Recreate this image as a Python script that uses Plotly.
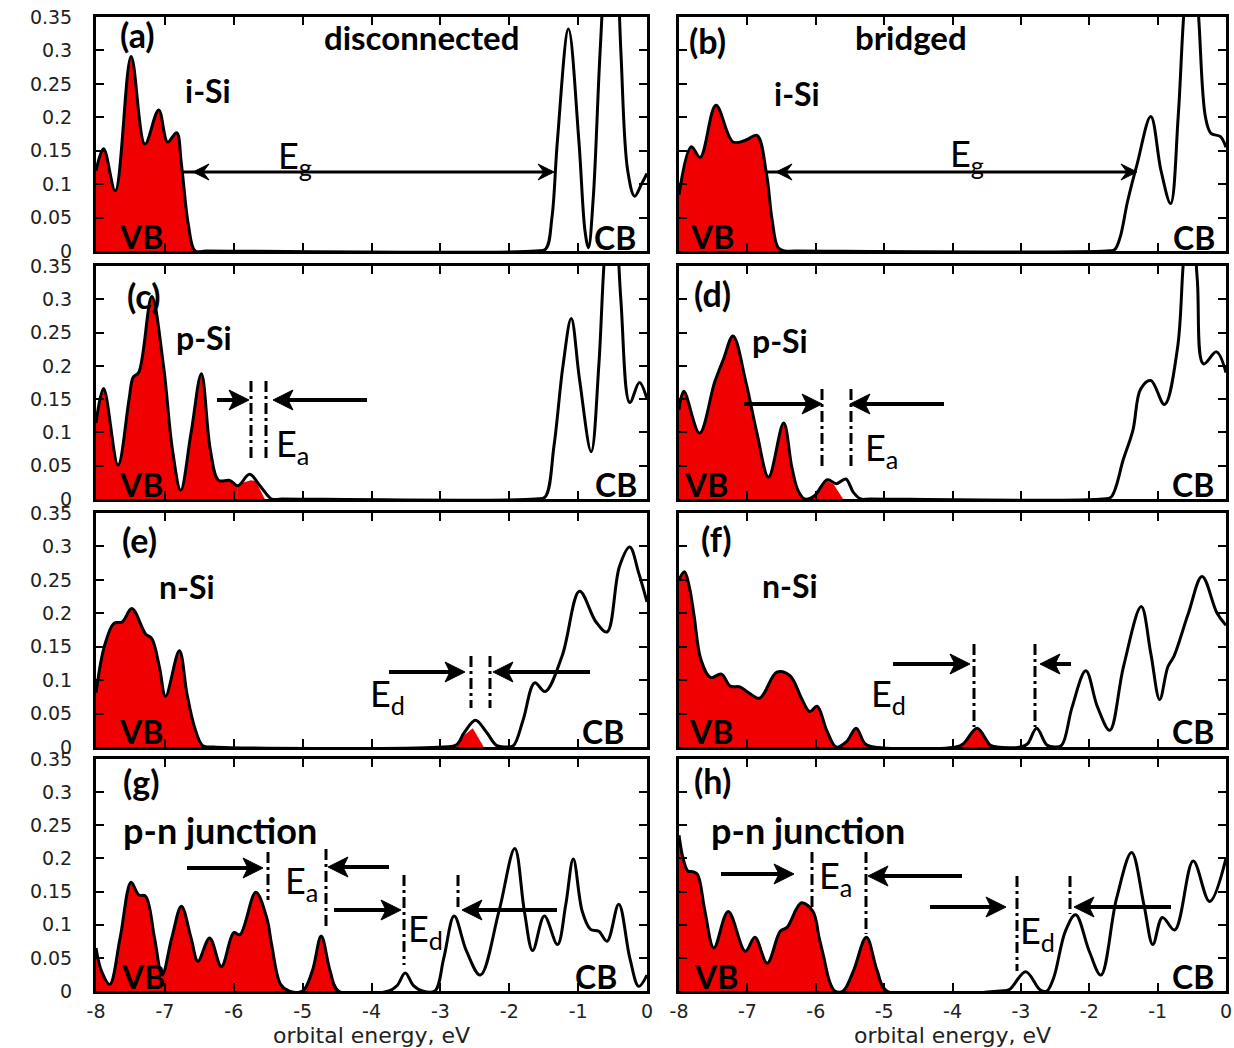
import plotly.graph_objects as go

W, H = 1234, 1048

# ---------------- data (energy knots in eV, DOS values) ----------------
energy_ticks = [-8, -7, -6, -5, -4, -3, -2, -1, 0]
energy_tick_labels = ["-8", "-7", "-6", "-5", "-4", "-3", "-2", "-1", "0"]
dos_ticks = [0, 0.05, 0.1, 0.15, 0.2, 0.25, 0.3, 0.35]
dos_tick_labels = ["0", "0.05", "0.1", "0.15", "0.2", "0.25", "0.3", "0.35"]

# (a) i-Si, disconnected
E_a = [-8.0, -7.89, -7.72, -7.49, -7.29, -7.09, -6.96, -6.83, -6.76, -6.66, -6.56, -6.4,
       -1.62, -1.47, -1.38, -1.30, -1.14, -0.99, -0.90, -0.85, -0.78, -0.68, -0.50, -0.38,
       -0.28, -0.18, -0.08, 0.0]
D_a = [0.12, 0.153, 0.09, 0.291, 0.16, 0.211, 0.163, 0.177, 0.13, 0.04, 0.0, 0.0,
       0.0, 0.003, 0.05, 0.166, 0.332, 0.166, 0.03, 0.005, 0.08, 0.3, 0.6, 0.3,
       0.12, 0.082, 0.1, 0.116]
occ_a = -6.4

# (b) i-Si, bridged
E_b = [-8.0, -7.82, -7.69, -7.46, -7.21, -7.02, -6.86, -6.72, -6.64, -6.55, -6.45, -6.3,
       -1.75, -1.63, -1.55, -1.44, -1.30, -1.10, -0.95, -0.81, -0.70, -0.62, -0.50, -0.40,
       -0.30, -0.22, -0.08, 0.0]
D_b = [0.084, 0.156, 0.14, 0.218, 0.163, 0.166, 0.173, 0.115, 0.048, 0.005, 0.0, 0.0,
       0.0, 0.002, 0.02, 0.074, 0.13, 0.201, 0.12, 0.071, 0.2, 0.35, 0.5, 0.35,
       0.2, 0.176, 0.171, 0.155]
occ_b = -6.3

# (c) p-Si, disconnected
E_c = [-8.0, -7.89, -7.68, -7.52, -7.46, -7.38, -7.19, -7.02, -6.89, -6.77, -6.62, -6.47,
       -6.34, -6.22, -6.06, -5.94, -5.77, -5.62, -5.45, -5.3,
       -1.62, -1.48, -1.35, -1.22, -1.10, -0.98, -0.81, -0.70, -0.62, -0.50, -0.38,
       -0.25, -0.11, 0.0]
D_c = [0.114, 0.166, 0.051, 0.15, 0.183, 0.19, 0.304, 0.2, 0.074, 0.013, 0.099, 0.188,
       0.074, 0.028, 0.028, 0.02, 0.037, 0.02, 0.0, 0.0,
       0.0, 0.003, 0.08, 0.2, 0.271, 0.18, 0.071, 0.2, 0.36, 0.5, 0.3,
       0.145, 0.175, 0.15]
occ_c = -5.94
part_E_c = [-5.94, -5.85, -5.75, -5.68, -5.55]
part_D_c = [0.02, 0.025, 0.028, 0.027, 0.0]

# (d) p-Si, bridged
E_d = [-8.0, -7.93, -7.70, -7.48, -7.35, -7.21, -7.02, -6.86, -6.69, -6.47, -6.35, -6.26,
       -6.16, -6.02, -5.83, -5.70, -5.56, -5.45, -5.34, -5.2,
       -1.8, -1.68, -1.5, -1.36, -1.25, -1.10, -0.90, -0.71, -0.62, -0.52, -0.42,
       -0.33, -0.14, 0.0]
D_d = [0.134, 0.162, 0.099, 0.175, 0.21, 0.245, 0.175, 0.099, 0.033, 0.114, 0.048, 0.013,
       0.0, 0.005, 0.029, 0.023, 0.03, 0.01, 0.0, 0.0,
       0.0, 0.003, 0.06, 0.104, 0.165, 0.178, 0.142, 0.226, 0.36, 0.45, 0.33,
       0.203, 0.221, 0.19]
occ_d = -6.16
part_E_d = [-6.08, -5.95, -5.83, -5.74, -5.60]
part_D_d = [0.0, 0.014, 0.027, 0.022, 0.0]

# (e) n-Si, disconnected
E_e = [-8.0, -7.88, -7.74, -7.62, -7.48, -7.28, -7.19, -7.08, -6.99, -6.79, -6.68, -6.57,
       -6.45, -6.3,
       -2.95, -2.77, -2.65, -2.49, -2.33, -2.18, -2.05,
       -1.94, -1.80, -1.63, -1.48, -1.23, -0.98, -0.74, -0.58, -0.40, -0.25, -0.12, 0.0]
D_e = [0.081, 0.15, 0.185, 0.187, 0.207, 0.169, 0.162, 0.12, 0.076, 0.144, 0.08, 0.03,
       0.002, 0.0,
       0.0, 0.003, 0.022, 0.04, 0.022, 0.002, 0.0,
       0.002, 0.04, 0.096, 0.083, 0.137, 0.233, 0.187, 0.172, 0.27, 0.299, 0.26, 0.217]
occ_e = -6.3
part_E_e = [-2.77, -2.65, -2.53, -2.37]
part_D_e = [0.0, 0.018, 0.028, 0.0]

# (f) n-Si, bridged
E_f = [-8.0, -7.92, -7.85, -7.78, -7.68, -7.54, -7.38, -7.25, -7.11, -6.98, -6.82, -6.57,
       -6.38, -6.20, -6.09, -5.98, -5.84, -5.70, -5.55, -5.41, -5.28, -5.15,
       -3.95, -3.84, -3.64, -3.45, -3.35, -3.0, -2.90, -2.77, -2.62, -2.5,
       -2.40, -2.25, -2.05, -1.88, -1.70, -1.50, -1.24, -1.10, -0.97, -0.85, -0.76,
       -0.55, -0.35, -0.13, 0.0]
D_f = [0.25, 0.262, 0.24, 0.197, 0.131, 0.104, 0.109, 0.091, 0.09, 0.081, 0.073, 0.112,
       0.107, 0.071, 0.053, 0.061, 0.025, 0.0, 0.008, 0.028, 0.005, 0.0,
       0.0, 0.005, 0.028, 0.003, 0.0, 0.0, 0.005, 0.028, 0.003, 0.0,
       0.003, 0.06, 0.114, 0.06, 0.025, 0.12, 0.21, 0.14, 0.071, 0.12, 0.136,
       0.2, 0.255, 0.2, 0.182]
occ_f = -3.3

# (g) p-n junction, disconnected
E_g = [-8.0, -7.92, -7.80, -7.65, -7.49, -7.38, -7.28, -7.15, -7.04, -6.90, -6.76, -6.62,
       -6.52, -6.35, -6.18, -6.00, -5.91, -5.68, -5.52, -5.45, -5.32, -5.2,
       -5.0, -4.86, -4.73, -4.60, -4.48,
       -3.75, -3.63, -3.51, -3.39, -3.26,
       -3.08, -2.95, -2.80, -2.62, -2.42, -2.15, -1.92, -1.78, -1.66, -1.49, -1.30,
       -1.18, -1.07, -0.94, -0.82, -0.70, -0.58, -0.41, -0.25, -0.12, 0.0]
D_g = [0.065, 0.03, 0.01, 0.08, 0.164, 0.145, 0.143, 0.08, 0.024, 0.08, 0.128, 0.08,
       0.045, 0.080, 0.037, 0.088, 0.085, 0.149, 0.11, 0.07, 0.01, 0.0,
       0.0, 0.03, 0.083, 0.03, 0.0,
       0.0, 0.008, 0.027, 0.008, 0.0,
       0.0, 0.05, 0.113, 0.06, 0.024, 0.12, 0.215, 0.12, 0.061, 0.113, 0.07,
       0.13, 0.199, 0.12, 0.093, 0.09, 0.075, 0.131, 0.05, 0.007, 0.024]
occ_g = -4.4

# (h) p-n junction, bridged
E_h = [-8.0, -7.94, -7.87, -7.80, -7.73, -7.62, -7.49, -7.28, -7.03, -6.89, -6.71, -6.52,
       -6.42, -6.21, -6.04, -5.95, -5.88, -5.80, -5.72, -5.60,
       -5.45, -5.26, -5.10, -4.96,
       -3.3, -3.17, -2.93, -2.72, -2.62,
       -2.52, -2.35, -2.20, -2.00, -1.83, -1.60, -1.38, -1.20, -1.07, -0.93, -0.75,
       -0.48, -0.24, 0.0]
D_h = [0.235, 0.2, 0.181, 0.18, 0.176, 0.12, 0.065, 0.12, 0.06, 0.081, 0.042, 0.09,
       0.096, 0.133, 0.12, 0.08, 0.05, 0.015, 0.0, 0.0,
       0.03, 0.081, 0.03, 0.0,
       0.0, 0.002, 0.029, 0.002, 0.0,
       0.02, 0.09, 0.115, 0.06, 0.024, 0.14, 0.209, 0.13, 0.07, 0.111, 0.092,
       0.196, 0.135, 0.2]
occ_h = -4.9

# ---------------- figure ----------------
RED = "#f00000"
TXT = "Lato"

col_px = [(96, 647), (679, 1226)]
row_px = [(17, 251), (266, 499), (513, 747), (759, 991)]

panels = [
    (E_a, D_a, occ_a, None, None),
    (E_b, D_b, occ_b, None, None),
    (E_c, D_c, occ_c, part_E_c, part_D_c),
    (E_d, D_d, occ_d, part_E_d, part_D_d),
    (E_e, D_e, occ_e, part_E_e, part_D_e),
    (E_f, D_f, occ_f, None, None),
    (E_g, D_g, occ_g, None, None),
    (E_h, D_h, occ_h, None, None),
]

fig = go.Figure()
layout_axes = {}
for i, (E, D, occ, pE, pD) in enumerate(panels):
    k = i + 1
    r, c = divmod(i, 2)
    xs = "x" if k == 1 else f"x{k}"
    ys = "y" if k == 1 else f"y{k}"
    fE = [e for e in E if e <= occ + 1e-9]
    fD = D[:len(fE)]
    fig.add_trace(go.Scatter(x=fE, y=fD, mode="lines", line=dict(width=0, shape="spline", color=RED),
                             fill="tozeroy", fillcolor=RED, xaxis=xs, yaxis=ys, hoverinfo="skip",
                             showlegend=False))
    if pE is not None:
        fig.add_trace(go.Scatter(x=pE, y=pD, mode="lines", line=dict(width=0, color=RED),
                                 fill="tozeroy", fillcolor=RED, xaxis=xs, yaxis=ys, hoverinfo="skip",
                                 showlegend=False))
    fig.add_trace(go.Scatter(x=E, y=D, mode="lines", line=dict(width=3, shape="spline", color="black"),
                             xaxis=xs, yaxis=ys, showlegend=False))
    x0, x1 = col_px[c]
    y0, y1 = row_px[r]
    common = dict(showline=True, linewidth=3, linecolor="black", mirror="allticks",
                  ticks="inside", ticklen=8, tickwidth=2, tickcolor="black",
                  showgrid=False, zeroline=False, fixedrange=True, automargin=False,
                  tickfont=dict(family="DejaVu Sans", size=19, color="#222"))
    xa = dict(common, domain=[x0 / W, x1 / W], range=[-8, 0], anchor=ys,
              tickvals=energy_ticks, ticktext=energy_tick_labels,
              showticklabels=(r == 3), ticklabelstandoff=1)
    if r == 3:
        xa["title"] = dict(text="orbital energy, eV", standoff=12,
                           font=dict(family="DejaVu Sans", size=22, color="#222"))
    ya = dict(common, domain=[1 - y1 / H, 1 - y0 / H], range=[0, 0.35], anchor=xs,
              tickvals=dos_ticks, ticktext=dos_tick_labels,
              showticklabels=(c == 0), ticklabelstandoff=17)
    layout_axes["xaxis" if k == 1 else f"xaxis{k}"] = xa
    layout_axes["yaxis" if k == 1 else f"yaxis{k}"] = ya

annotations = []
shapes = []


def txt(s, x, y, size=32, bold=True, xanchor="center"):
    annotations.append(dict(text=s, x=x / W, y=1 - y / H, xref="paper", yref="paper",
                            showarrow=False, xanchor=xanchor, yanchor="middle",
                            font=dict(family=TXT, size=size, color="black",
                                      weight="bold" if bold else "normal")))


def P(x, y):
    return f"{x / W:.5f},{1 - y / H:.5f}"


def head(hx, hy, d, L=19, hw=9, notch=5):
    # filled, slightly notched arrow head, tip at (hx, hy), pointing in direction d (+1 right, -1 left)
    path = (f"M{P(hx, hy)} L{P(hx - d * L, hy - hw)} L{P(hx - d * (L - notch), hy)} "
            f"L{P(hx - d * L, hy + hw)} Z")
    shapes.append(dict(type="path", xref="paper", yref="paper", path=path,
                       fillcolor="black", line=dict(color="black", width=1)))


def arrow(hx, hy, tx, ty, both=False):
    d = 1 if hx > tx else -1
    if both:
        L, hw, n = 16, 8, 6
        shapes.append(dict(type="line", xref="paper", yref="paper",
                           x0=(tx - d * (L - n)) / W, x1=(hx - d * (L - n)) / W,
                           y0=1 - ty / H, y1=1 - hy / H, line=dict(color="black", width=3)))
        head(hx, hy, d, L, hw, n)
        head(tx, ty, -d, L, hw, n)
    else:
        L, hw, n = 20, 10, 5
        shapes.append(dict(type="line", xref="paper", yref="paper",
                           x0=tx / W, x1=(hx - d * (L - n)) / W,
                           y0=1 - ty / H, y1=1 - hy / H, line=dict(color="black", width=4)))
        head(hx, hy, d, L, hw, n)


ES = 36  # size of the E labels
# (a)
txt("(a)", 137, 35, 34); txt("disconnected", 421, 37, 33); txt("i-Si", 208, 90)
txt("VB", 141, 236); txt("CB", 615, 237); txt("E<sub>g</sub>", 276, 157, ES, False, "left")
arrow(554, 172, 193, 172, both=True)
# (b)
txt("(b)", 708, 41, 34); txt("bridged", 911, 37, 33); txt("i-Si", 797, 93)
txt("VB", 712, 236); txt("CB", 1194, 237); txt("E<sub>g</sub>", 948, 155, ES, False, "left")
arrow(1137, 172, 776, 172, both=True)
# (c)
txt("(c)", 143, 295, 34); txt("p-Si", 204, 338)
txt("VB", 141, 484); txt("CB", 616, 484); txt("E<sub>a</sub>", 274, 446, ES, False, "left")
arrow(249, 400, 217, 400); arrow(273, 400, 367, 400)
# (d)
txt("(d)", 712, 293, 34); txt("p-Si", 780, 340)
txt("VB", 706, 484); txt("CB", 1193, 484); txt("E<sub>a</sub>", 863, 449, ES, False, "left")
arrow(822, 404, 744, 404); arrow(850, 404, 944, 404)
# (e)
txt("(e)", 139, 539, 34); txt("n-Si", 187, 586)
txt("VB", 141, 731); txt("CB", 603, 731); txt("E<sub>d</sub>", 368, 695, ES, False, "left")
arrow(465, 672, 389, 672); arrow(493, 672, 590, 672)
# (f)
txt("(f)", 716, 538, 34); txt("n-Si", 790, 585)
txt("VB", 711, 731); txt("CB", 1193, 731); txt("E<sub>d</sub>", 869, 695, ES, False, "left")
arrow(970, 664, 893, 664); arrow(1040, 664, 1071, 664)
# (g)
txt("(g)", 141, 781, 34); txt("p-n junction", 220, 830, 36)
txt("VB", 143, 976); txt("CB", 596, 976)
txt("E<sub>a</sub>", 283, 882, ES, False, "left"); txt("E<sub>d</sub>", 406, 930, ES, False, "left")
arrow(263, 868, 187, 868); arrow(328, 867, 389, 867)
arrow(401, 910, 334, 910); arrow(462, 910, 557, 910)
# (h)
txt("(h)", 712, 780, 34); txt("p-n junction", 808, 830, 36)
txt("VB", 716, 976); txt("CB", 1193, 976)
txt("E<sub>a</sub>", 817, 877, ES, False, "left"); txt("E<sub>d</sub>", 1018, 932, ES, False, "left")
arrow(794, 874, 721, 874); arrow(868, 876, 962, 876)
arrow(1006, 907, 930, 907); arrow(1074, 907, 1171, 907)

for (x, ya_, yb_) in [(251, 381, 460), (266, 381, 460),
                      (822, 389, 470), (851, 389, 470),
                      (471, 656, 708), (490, 656, 708),
                      (974, 644, 727), (1035, 644, 727),
                      (268, 852, 900), (326, 849, 929), (404, 875, 965), (458, 875, 907),
                      (812, 852, 907), (866, 852, 934), (1017, 876, 971), (1070, 876, 914)]:
    shapes.append(dict(type="line", xref="paper", yref="paper",
                       x0=x / W, x1=x / W, y0=1 - ya_ / H, y1=1 - yb_ / H,
                       line=dict(color="black", width=3, dash="11px,4px,3px,4px")))

fig.update_layout(width=W, height=H, margin=dict(l=0, r=0, t=0, b=0),
                  paper_bgcolor="white", plot_bgcolor="white",
                  annotations=annotations, shapes=shapes, showlegend=False,
                  **layout_axes)

fig.write_html("out.html")
